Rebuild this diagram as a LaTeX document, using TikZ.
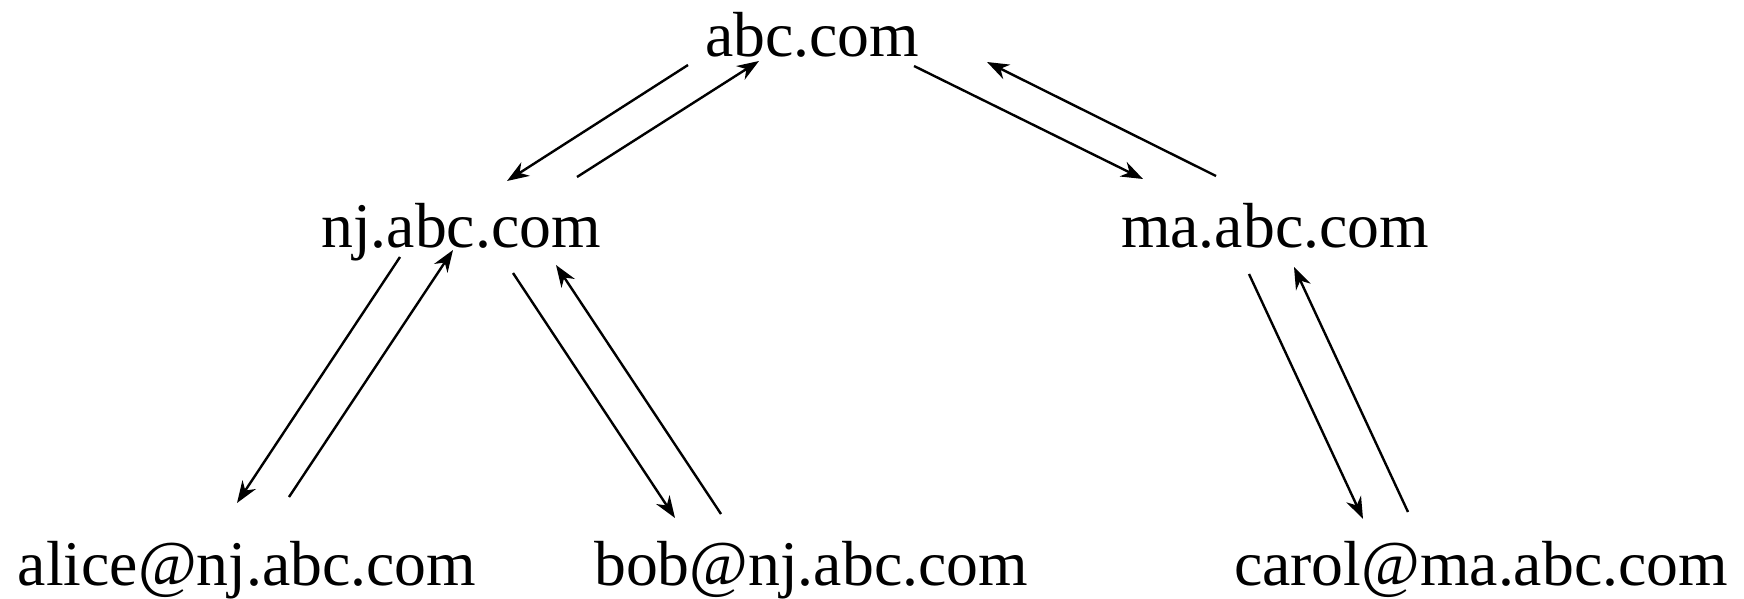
\documentclass[tikz,border=0pt]{standalone}
\usepackage{fontspec}
\setmainfont{Liberation Serif}
\usetikzlibrary{arrows.meta}
\begin{document}
\begin{tikzpicture}[x=0.5pt,y=-0.5pt,
  lbl/.style={anchor=base,inner sep=0pt,font=\fontsize{31.85pt}{36pt}\selectfont},
  link/.style={line width=1.2pt,-{Stealth[length=11pt,width=8pt,inset=3.5pt]}}]
\useasboundingbox (0,0) rectangle (1744,599);
\node[lbl] (abc) at (812,57) {abc.com};
\node[lbl] (nj) at (461,247) {nj.abc.com};
\node[lbl] (ma) at (1275,247) {ma.abc.com};
\node[lbl] (alice) at (247,585) {alice@nj.abc.com};
\node[lbl] (bob) at (811,585) {bob@nj.abc.com};
\node[lbl] (carol) at (1481,585) {carol@ma.abc.com};
% endpoints
\coordinate (abcA) at (688,65);  \coordinate (njA) at (507,181);
\coordinate (njB) at (577,177);  \coordinate (abcB) at (759,61);
\coordinate (abcC) at (914,66);  \coordinate (maC) at (1143,179);
\coordinate (maD) at (1216,176); \coordinate (abcD) at (987,62);
\coordinate (njE) at (400,257);  \coordinate (aliceE) at (237,503);
\coordinate (aliceF) at (289,497); \coordinate (njF) at (453,250);
\coordinate (njG) at (513,273);  \coordinate (bobG) at (675,518);
\coordinate (bobH) at (721,514); \coordinate (njH) at (556,265);
\coordinate (maI) at (1249,274); \coordinate (carolI) at (1363,519);
\coordinate (carolJ) at (1408,512); \coordinate (maJ) at (1294,267);
\draw[link] (abcA) -- (njA);
\draw[link] (njB) -- (abcB);
\draw[link] (abcC) -- (maC);
\draw[link] (maD) -- (abcD);
\draw[link] (njE) -- (aliceE);
\draw[link] (aliceF) -- (njF);
\draw[link] (njG) -- (bobG);
\draw[link] (bobH) -- (njH);
\draw[link] (maI) -- (carolI);
\draw[link] (carolJ) -- (maJ);
\end{tikzpicture}
\end{document}
